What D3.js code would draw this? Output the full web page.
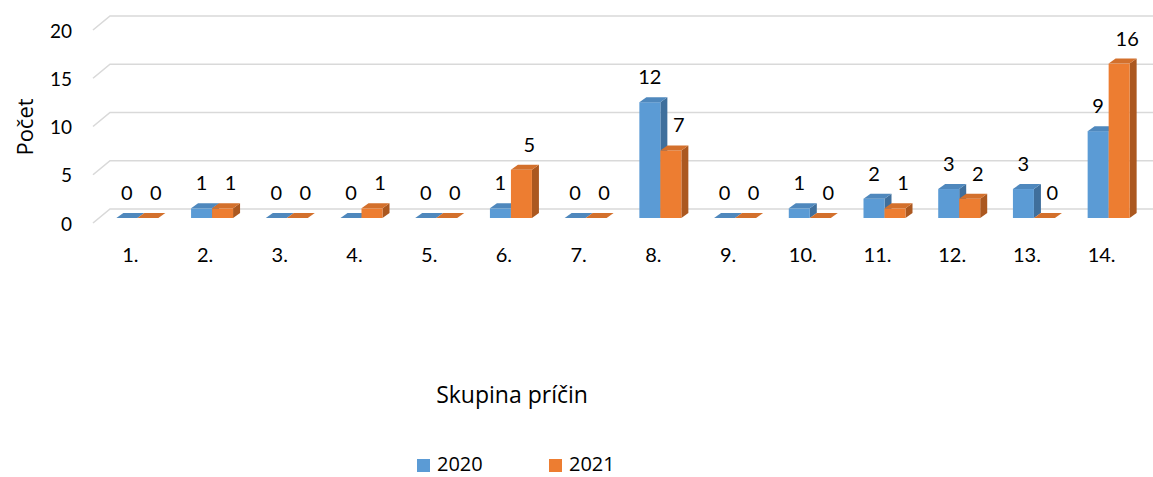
<!DOCTYPE html>
<html>
<head>
<meta charset="utf-8">
<script src="https://cdn.jsdelivr.net/npm/d3@7"></script>
<style>
    body { margin: 0; background: #fff; }
    svg { display: block; }
    text { font-family: Lato, "Noto Sans", sans-serif; fill: #000; }
    text.title { font-family: "Open Sans", "Noto Sans", sans-serif; }
</style>
</head>
<body>
<svg id="chart" width="1153" height="477"></svg>
<script>
var categories = ['1.', '2.', '3.', '4.', '5.', '6.', '7.', '8.', '9.', '10.', '11.', '12.', '13.', '14.'];
var series = ['2020', '2021'];
var values2020 = [0, 1, 0, 0, 0, 1, 0, 12, 0, 1, 2, 3, 3, 9];
var values2021 = [0, 1, 0, 1, 0, 5, 0, 7, 0, 0, 1, 2, 0, 16];
var yTicks = [0, 5, 10, 15, 20];

var colors = {
    '2020': {front: '#5b9bd5', top: '#4f88bd', side: '#3f6f9c'},
    '2021': {front: '#ed7d31', top: '#d3702c', side: '#ab5820'}
};

var svg = d3.select('#chart');

// back wall scale, front faces sit a bit lower
var y = d3.scaleLinear().domain([0, 20]).range([209, 16]);
var frontShift = 9;
var depthX = 7, depthY = -5;

var x0 = d3.scaleBand().domain(categories).range([100, 1146]);
var x1 = d3.scaleBand().domain(series).range([-21, 21]);

// gridlines with the little bend on the left (floor/side wall)
var grid = svg.append('g');
yTicks.forEach(function (t) {
    var yy = y(t);
    grid.append('path')
        .attr('d', 'M93,' + (yy + 14) + ' L110,' + yy + ' L1153,' + yy)
        .attr('fill', 'none')
        .attr('stroke', '#d9d9d9')
        .attr('stroke-width', 1.6);
    svg.append('text')
        .attr('x', 72)
        .attr('y', yy + 15)
        .attr('dy', '0.35em')
        .attr('text-anchor', 'end')
        .style('font-size', '19px')
        .text(t);
});

var data = [];
categories.forEach(function (c, i) {
    data.push({cat: c, s: '2020', v: values2020[i]});
    data.push({cat: c, s: '2021', v: values2021[i]});
});

var bars = svg.append('g');
data.forEach(function (d) {
    var xl = x0(d.cat) + x0.bandwidth() / 2 + x1(d.s);
    var w = x1.bandwidth();
    var yb = y(0) + frontShift;
    var yt = y(d.v) + frontShift;
    var col = colors[d.s];
    var g = bars.append('g');
    // side
    g.append('path')
        .attr('d', 'M' + (xl + w) + ',' + yt + ' L' + (xl + w + depthX) + ',' + (yt + depthY) +
            ' L' + (xl + w + depthX) + ',' + (yb + depthY) + ' L' + (xl + w) + ',' + yb + 'Z')
        .attr('fill', col.side);
    // front
    if (d.v > 0) {
        g.append('rect')
            .attr('x', xl).attr('y', yt)
            .attr('width', w).attr('height', yb - yt)
            .attr('fill', col.front);
    }
    // top
    g.append('path')
        .attr('d', 'M' + xl + ',' + yt + ' L' + (xl + depthX) + ',' + (yt + depthY) +
            ' L' + (xl + w + depthX) + ',' + (yt + depthY) + ' L' + (xl + w) + ',' + yt + 'Z')
        .attr('fill', col.top);
});

// value labels
data.forEach(function (d) {
    var cx = x0(d.cat) + x0.bandwidth() / 2 + x1(d.s) + x1.bandwidth() / 2;
    if (d.s === '2021') cx += 8;
    svg.append('text')
        .attr('x', cx)
        .attr('y', y(d.v) + frontShift - 18)
        .attr('text-anchor', 'middle')
        .style('font-size', '20px')
        .text(d.v);
});

// category labels
categories.forEach(function (c) {
    svg.append('text')
        .attr('x', x0(c) + x0.bandwidth() / 2 - 7)
        .attr('y', 262)
        .attr('text-anchor', 'middle')
        .style('font-size', '20px')
        .text(c);
});

svg.append('text')
    .attr('class', 'title')
    .attr('transform', 'translate(25,127) rotate(-90)')
    .attr('dy', '0.35em')
    .attr('text-anchor', 'middle')
    .style('font-size', '22px')
    .text('Počet');

svg.append('text')
    .attr('class', 'title')
    .attr('x', 512)
    .attr('y', 403)
    .attr('text-anchor', 'middle')
    .style('font-size', '23px')
    .text('Skupina príčin');

// legend
var legend = svg.append('g');
var legX = [417, 549];
series.forEach(function (s, i) {
    legend.append('rect')
        .attr('x', legX[i]).attr('y', 459)
        .attr('width', 13).attr('height', 13)
        .attr('fill', colors[s].front);
    legend.append('text')
        .attr('class', 'title')
        .attr('x', legX[i] + 20)
        .attr('y', 471)
        .style('font-size', '20px')
        .text(s);
});
</script>
</body>
</html>
